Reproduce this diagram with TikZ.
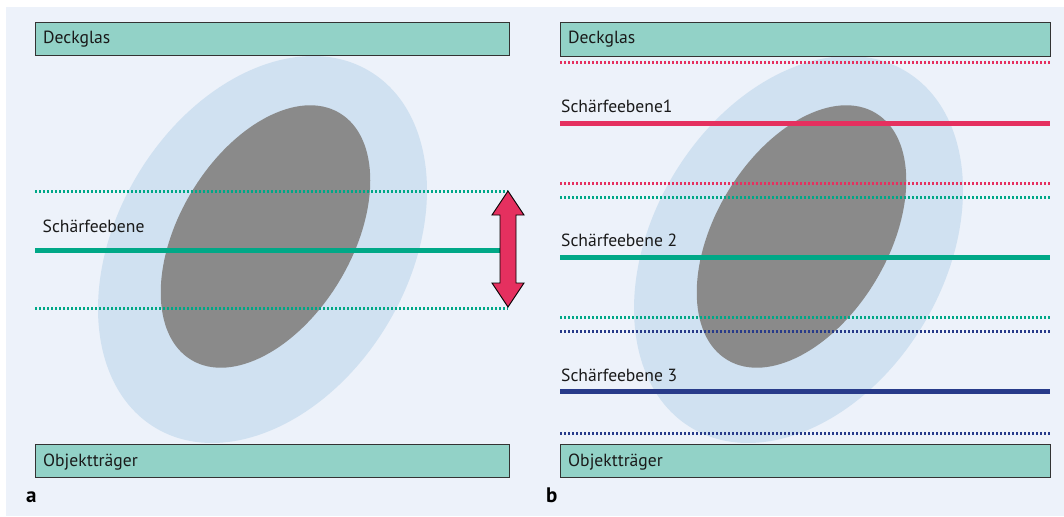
\documentclass[tikz,border=0pt]{standalone}
\usepackage{fontspec}
\setmainfont{PT Sans}
\definecolor{bgc}{HTML}{EDF2FA}
\definecolor{boxc}{HTML}{92D2C7}
\definecolor{lightc}{HTML}{D0E1F1}
\definecolor{darkc}{HTML}{8A8A8A}
\definecolor{greenc}{HTML}{00A887}
\definecolor{redc}{HTML}{E5305F}
\definecolor{bluec}{HTML}{283B8A}
\definecolor{txtc}{HTML}{1A1A1A}
\tikzset{
  glassbox/.style={draw=black!80, line width=1.4pt, fill=boxc, rectangle, inner sep=0pt, anchor=north west},
  lbl/.style={anchor=base west, inner sep=0pt, text=txtc, font=\fontsize{17.6}{20}\selectfont},
  panellbl/.style={anchor=base west, inner sep=0pt, text=black, font=\fontsize{21}{24}\selectfont\bfseries},
  solidln/.style={line width=5pt},
  dotln/.style={line width=3pt, dash pattern=on 2.4pt off 1.6pt},
}
\begin{document}
\begin{tikzpicture}[x=1pt,y=-1pt]
\useasboundingbox (0,0) rectangle (1064,516);
\fill[bgc] (6,7) rectangle (1064,516);
% panel a specimen
\fill[lightc, rotate around={59:(262.5,249.5)}] (262.5,249.5) ellipse [x radius=208, y radius=145.6];
\fill[darkc, rotate around={59:(265.5,236.5)}] (265.5,236.5) ellipse [x radius=144, y radius=86.3];
% panel b specimen
\fill[lightc, rotate around={59:(798.5,249.5)}] (798.5,249.5) ellipse [x radius=208, y radius=145.6];
\fill[darkc, rotate around={59:(801.5,236.5)}] (801.5,236.5) ellipse [x radius=144, y radius=86.3];
% boxes
\node[glassbox, minimum width=474pt, minimum height=33pt] (da) at (35,22) {};
\node[lbl] (dat) at (43,44) {Deckglas};
\node[glassbox, minimum width=474pt, minimum height=33pt] (oa) at (35,444) {};
\node[lbl] (oat) at (43,466) {Objektträger};
\node[glassbox, minimum width=490pt, minimum height=34pt] (db) at (560,22) {};
\node[lbl] (dbt) at (568,44) {Deckglas};
\node[glassbox, minimum width=490pt, minimum height=33pt] (ob) at (560,444) {};
\node[lbl] (obt) at (568,466) {Objektträger};
% panel a lines
\draw[dotln, greenc] (35,191) -- (508,191);
\draw[dotln, greenc] (35,308) -- (508,308);
\draw[solidln, greenc] (35,250) -- (508,250);
\node[lbl] (sa) at (42.5,232) {Schärfeebene};
% arrow
\filldraw[fill=redc, draw=black, line width=0.9pt, line join=miter]
  (508,191) -- (524,215) -- (516,215) -- (516,283) -- (524,283) -- (508,307)
  -- (492,283) -- (500,283) -- (500,215) -- (492,215) -- cycle;
% panel b lines
\draw[dotln, redc] (560,63) -- (1050,63);
\draw[solidln, redc] (560,123) -- (1050,123);
\draw[dotln, redc] (560,183) -- (1050,183);
\draw[dotln, greenc] (560,197) -- (1050,197);
\draw[solidln, greenc] (560,257) -- (1050,257);
\draw[dotln, greenc] (560,317) -- (1050,317);
\draw[dotln, bluec] (560,331) -- (1050,331);
\draw[solidln, bluec] (560,391) -- (1050,391);
\draw[dotln, bluec] (560,433) -- (1050,433);
\node[lbl] (s1) at (561,113) {Schärfeebene1};
\node[lbl] (s2) at (561,246) {Schärfeebene 2};
\node[lbl] (s3) at (561,381) {Schärfeebene 3};
% panel letters
\node[panellbl] (pa) at (26,502) {a};
\node[panellbl] (pb) at (546,502) {b};
\end{tikzpicture}
\end{document}
